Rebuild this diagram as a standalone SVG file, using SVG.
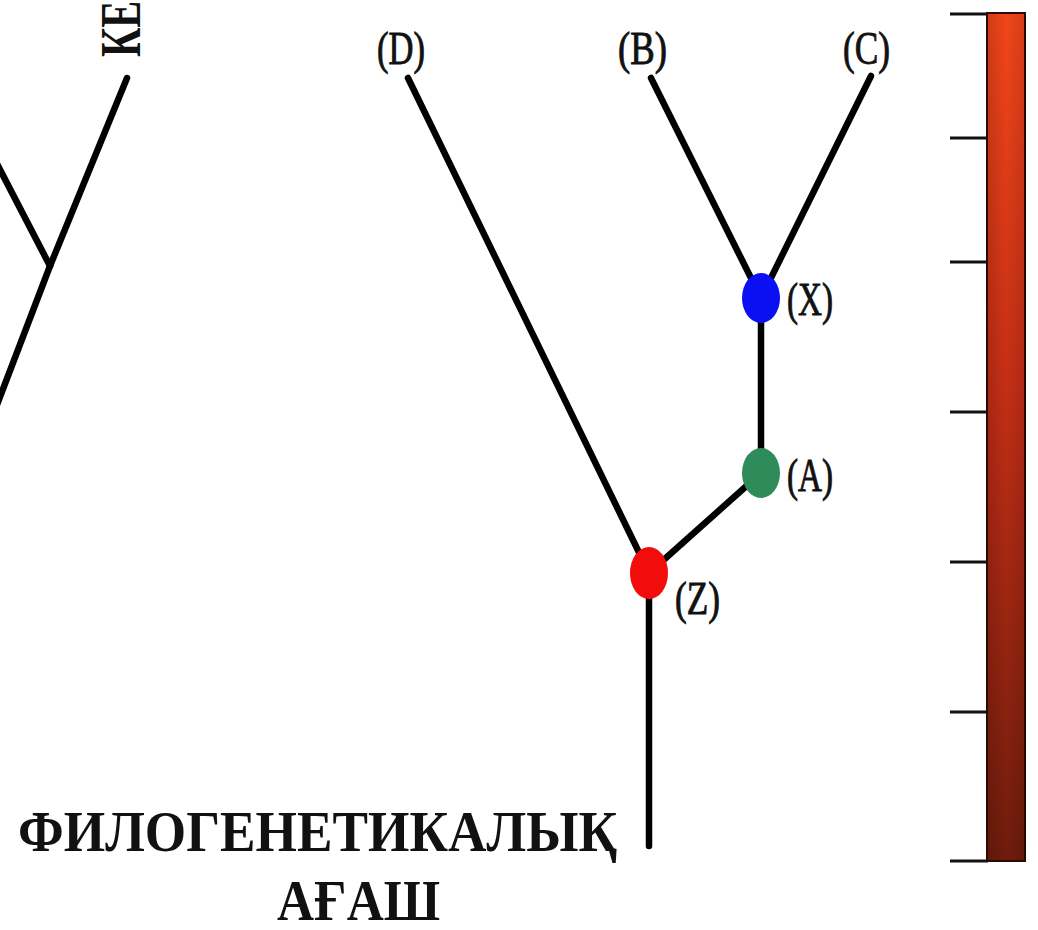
<svg xmlns="http://www.w3.org/2000/svg" width="1038" height="930" viewBox="0 0 1038 930">
<style>
.br{stroke:#000;stroke-width:6.5;stroke-linecap:round;fill:none}
.lb{font-family:"Liberation Serif","Times New Roman",serif;font-size:46px;fill:#111;stroke:#111;stroke-width:0.9}
.tt{font-family:"Liberation Serif","Times New Roman",serif;font-weight:bold;font-size:56px;fill:#111}
.tick{stroke:#111;stroke-width:3}
</style>
<defs>
<linearGradient id="barG" x1="0" y1="0" x2="0" y2="1">
<stop offset="0" stop-color="#F2461A"/>
<stop offset="0.45" stop-color="#C42E16"/>
<stop offset="1" stop-color="#6E1C0C"/>
</linearGradient>
<linearGradient id="barS" x1="0" y1="0" x2="1" y2="0">
<stop offset="0" stop-color="#000" stop-opacity="0.15"/>
<stop offset="0.5" stop-color="#000" stop-opacity="0"/>
<stop offset="1" stop-color="#000" stop-opacity="0.12"/>
</linearGradient>
</defs>
<rect width="1038" height="930" fill="#fff"/>

<g id="connectors">
<line class="br" x1="127" y1="78" x2="50" y2="266"/>
<line class="br" x1="-5" y1="160" x2="50" y2="266"/>
<line class="br" x1="50" y1="266" x2="-5" y2="410"/>
<line class="br" x1="408" y1="78" x2="649" y2="573"/>
<line class="br" x1="651" y1="78" x2="761" y2="298"/>
<line class="br" x1="871" y1="76" x2="761" y2="298"/>
<line class="br" x1="761" y1="298" x2="761" y2="473"/>
<line class="br" x1="761" y1="473" x2="649" y2="573"/>
<line class="br" x1="649" y1="573" x2="649" y2="846"/>
</g>

<g id="leaf-ke">
<text class="tt" font-size="40" transform="translate(140,57) rotate(-90) scale(0.72,1)">КЕ</text>
</g>
<g id="leaf-d"><text class="lb" x="377" y="64" textLength="48" lengthAdjust="spacingAndGlyphs">(D)</text></g>
<g id="leaf-b"><text class="lb" x="618" y="64" textLength="49" lengthAdjust="spacingAndGlyphs">(B)</text></g>
<g id="leaf-c"><text class="lb" x="843" y="64" textLength="47" lengthAdjust="spacingAndGlyphs">(C)</text></g>

<g id="node-x">
<ellipse cx="761" cy="298" rx="19" ry="25" fill="#0A10F2"/>
<text class="lb" x="787" y="315" textLength="46" lengthAdjust="spacingAndGlyphs">(X)</text>
</g>
<g id="node-a">
<ellipse cx="761" cy="473" rx="19" ry="25" fill="#2E8B5A"/>
<text class="lb" x="787" y="491" textLength="46" lengthAdjust="spacingAndGlyphs">(A)</text>
</g>
<g id="node-z">
<ellipse cx="649" cy="573" rx="19" ry="26" fill="#F20C0C"/>
<text class="lb" x="675" y="614" textLength="45" lengthAdjust="spacingAndGlyphs">(Z)</text>
</g>

<g id="title">
<text class="tt" x="18" y="851" textLength="599" lengthAdjust="spacingAndGlyphs">ФИЛОГЕНЕТИКАЛЫҚ</text>
<text class="tt" x="277" y="920" textLength="163" lengthAdjust="spacingAndGlyphs">АҒАШ</text>
</g>

<g id="scale-bar">
<line class="tick" x1="950" y1="14" x2="988" y2="14"/>
<line class="tick" x1="950" y1="138" x2="988" y2="138"/>
<line class="tick" x1="950" y1="262" x2="988" y2="262"/>
<line class="tick" x1="950" y1="412" x2="988" y2="412"/>
<line class="tick" x1="950" y1="562" x2="988" y2="562"/>
<line class="tick" x1="950" y1="712" x2="988" y2="712"/>
<line class="tick" x1="950" y1="861" x2="988" y2="861"/>
<rect x="987" y="13" width="38" height="848" fill="url(#barG)"/>
<rect x="987" y="13" width="38" height="848" fill="url(#barS)" stroke="#2a0a05" stroke-width="2"/>
</g>
</svg>
